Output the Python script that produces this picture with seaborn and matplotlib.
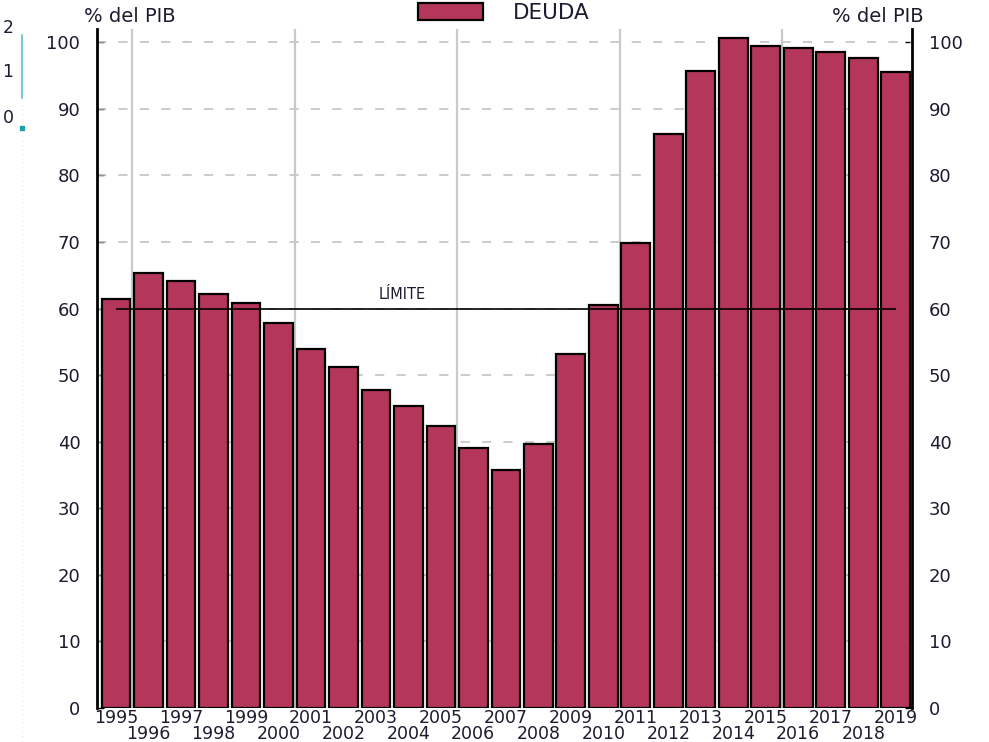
import matplotlib
matplotlib.use("Agg")
import matplotlib.pyplot as plt
import seaborn as sns
import pandas as pd
from matplotlib.lines import Line2D

# Public debt, % of GDP
years = [str(y) for y in range(1995, 2020)]
deuda = [61.5, 65.4, 64.2, 62.2, 60.8, 57.8, 53.9, 51.2, 47.7, 45.3, 42.3,
         39.1, 35.7, 39.6, 53.2, 60.5, 69.9, 86.3, 95.7, 100.7, 99.5, 99.2,
         98.5, 97.6, 95.5]
limite = 60
yticks = list(range(0, 101, 10))
series_name = "DEUDA"
unit_label = "% del PIB"
limit_label = "LÍMITE"

sns.set_theme(style="white")
plt.rcParams["font.family"] = ["DejaVu Sans"]
text_color = "#1c1c30"
bar_color = "#b4365a"

df = pd.DataFrame({"year": years, "deuda": deuda})

fig = plt.figure(figsize=(9.89, 7.42), dpi=100)
ax = fig.add_axes([97 / 989, 1 - 708 / 742, (912 - 97) / 989, (708 - 29) / 742])

sns.barplot(data=df, x="year", y="deuda", color=bar_color, saturation=1,
            edgecolor="black", linewidth=1.6, width=0.88, label=series_name,
            ax=ax, zorder=3)
handles, labels = ax.get_legend_handles_labels()
if ax.get_legend() is not None:
    ax.get_legend().remove()

ax.set_xlim(-0.58, 24.5)
ax.set_ylim(0, 102)

# grid: dashed horizontals, solid verticals every five years
for v in yticks[1:]:
    ax.axhline(v, color="#bdbdbd", lw=1.1, dashes=(6, 8), zorder=1)
for xv in [0.5, 5.5, 10.5, 15.5, 20.5]:
    ax.axvline(xv, color="#c9c9c9", lw=1.6, zorder=1)

# reference line
ax.hlines(limite, 0, len(years) - 1, color="black", lw=1.2, zorder=5)
ax.text(8.8, limite + 1.0, limit_label, ha="center", va="bottom",
        fontsize=10.5, color=text_color)

# axes styling
for side in ["top", "bottom"]:
    ax.spines[side].set_visible(False)
for side in ["left", "right"]:
    ax.spines[side].set_visible(True)
    ax.spines[side].set_color("black")
    ax.spines[side].set_linewidth(2)
ax.set_yticks(yticks)
ax.set_yticklabels([str(t) for t in yticks])
ax.tick_params(axis="y", which="both", direction="in", length=5, width=1,
               color="black", left=True, right=True, labelleft=True,
               labelright=True, labelsize=13, labelcolor=text_color, pad=12)

# year labels in two staggered rows
idx = list(range(len(years)))
ax.set_xticks(idx[0::2])
ax.set_xticklabels(years[0::2])
ax.set_xticks(idx[1::2], minor=True)
ax.set_xticklabels(years[1::2], minor=True)
ax.tick_params(axis="x", which="both", length=0, labelsize=12.5,
               labelcolor=text_color)
ax.tick_params(axis="x", which="major", pad=1)
ax.tick_params(axis="x", which="minor", pad=12)
ax.set_xlabel("")
ax.set_ylabel("")

# unit labels above both axes
fig.text(130 / 989, 1 - 16 / 742, unit_label, ha="center", va="center",
         fontsize=14, color=text_color)
fig.text(878 / 989, 1 - 16 / 742, unit_label, ha="center", va="center",
         fontsize=14, color=text_color)

# legend
fig.legend(handles, labels, loc="center", bbox_to_anchor=(504 / 989, 1 - 13 / 742),
           frameon=False, fontsize=15.5, handlelength=3.0, handleheight=0.8,
           handletextpad=1.4, labelcolor=text_color)

# left margin remnants
for txt, yy in [("2", 28), ("1", 72), ("0", 118)]:
    fig.text(8 / 989, 1 - yy / 742, txt, ha="center", va="center",
             fontsize=12.5, color=text_color)
fig.add_artist(Line2D([22 / 989, 22 / 989], [1 - 35 / 742, 1 - 98 / 742],
                      transform=fig.transFigure, color="#7cc8da", lw=1.5))
fig.add_artist(Line2D([22 / 989, 22 / 989], [1 - 100 / 742, 0],
                      transform=fig.transFigure, color="#e6e6e6", lw=0.8,
                      dashes=(1, 3)))
fig.add_artist(Line2D([22 / 989], [1 - 128 / 742], transform=fig.transFigure,
                      marker="s", markersize=2.5, color="#1aa0b0", lw=0))

fig.savefig("out.png", dpi=100)
